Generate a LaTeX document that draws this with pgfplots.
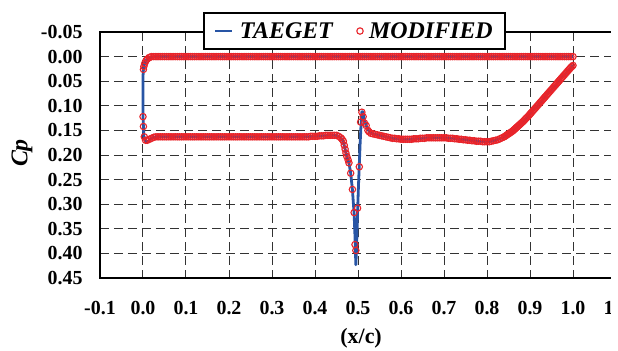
\documentclass[border=0pt]{standalone}
\usepackage{fontspec}
\setmainfont{Liberation Serif}
\usepackage{pgfplots}
\pgfplotsset{compat=1.18}
\definecolor{tblue}{RGB}{40,85,165}
\definecolor{mred}{RGB}{232,36,42}
\begin{document}
\begin{tikzpicture}
\begin{axis}[
  scale only axis, width=516bp, height=246bp,
  xmin=-0.1, xmax=1.1, ymin=-0.05, ymax=0.45, y dir=reverse,
  xtick={-0.1,0,0.1,0.2,0.3,0.4,0.5,0.6,0.7,0.8,0.9,1.0,1.1},
  xticklabels={-0.1,0.0,0.1,0.2,0.3,0.4,0.5,0.6,0.7,0.8,0.9,1.0,1.1},
  ytick={-0.05,0,0.05,0.1,0.15,0.2,0.25,0.3,0.35,0.4,0.45},
  yticklabels={-0.05,0.00,0.05,0.10,0.15,0.20,0.25,0.30,0.35,0.40,0.45},
  grid=major,
  major grid style={dash pattern=on 9bp off 5bp, line width=1bp, black!80},
  major tick length=0pt,
  axis line style={line width=2bp},
  ticklabel style={font=\bfseries\fontsize{20}{24}\selectfont},
  xticklabel style={yshift=-20bp},
  yticklabel style={xshift=-14bp},
  xlabel={(x/c)},
  xlabel style={font=\bfseries\fontsize{22}{26}\selectfont, at={(axis description cs:0.506,-0.244)}, anchor=center},
  ylabel={Cp},
  ylabel style={font=\bfseries\itshape\fontsize{24}{28}\selectfont, at={(axis description cs:-0.151,0.508)}, anchor=center},
  legend style={at={(axis description cs:0.493,1.004)}, anchor=center, draw=black, line width=2bp, fill=white,
    inner xsep=10bp, inner ysep=7bp,
    font=\bfseries\itshape\fontsize{24}{28}\selectfont,
    /tikz/every odd column/.append style={column sep=4bp},
    /tikz/every even column/.append style={column sep=22bp}},
  legend columns=2,
]
\addplot[tblue, line width=2.8bp, line join=round] coordinates {
(1.000,0.000)(0.900,0.000)(0.800,0.000)(0.700,0.000)(0.600,0.000)(0.500,0.000)(0.400,0.000)(0.300,0.000)(0.200,0.000)(0.100,0.000)(0.050,0.000)(0.030,0.000)(0.020,0.001)(0.014,0.002)(0.010,0.005)(0.007,0.008)(0.004,0.014)(0.002,0.020)(0.001,0.026)(0.000,0.040)(0.000,0.080)(0.000,0.122)(0.001,0.142)(0.002,0.163)(0.005,0.172)(0.008,0.174)(0.012,0.172)(0.018,0.168)(0.025,0.164)(0.030,0.163)(0.100,0.163)(0.200,0.163)(0.300,0.163)(0.380,0.163)(0.400,0.162)(0.420,0.161)(0.440,0.160)(0.450,0.160)(0.455,0.162)(0.460,0.165)(0.463,0.168)(0.466,0.174)(0.470,0.188)(0.474,0.203)(0.479,0.216)(0.483,0.237)(0.487,0.270)(0.491,0.320)(0.493,0.365)(0.495,0.423)(0.497,0.380)(0.499,0.315)(0.501,0.265)(0.503,0.220)(0.505,0.175)(0.507,0.140)(0.509,0.112)(0.511,0.112)(0.515,0.130)(0.519,0.140)(0.523,0.148)(0.528,0.154)(0.535,0.157)(0.540,0.158)(0.550,0.160)(0.560,0.162)(0.570,0.164)(0.580,0.166)(0.600,0.168)(0.620,0.168)(0.640,0.167)(0.660,0.165)(0.680,0.165)(0.700,0.165)(0.720,0.166)(0.740,0.168)(0.760,0.170)(0.780,0.172)(0.800,0.173)(0.810,0.172)(0.820,0.170)(0.830,0.167)(0.840,0.163)(0.850,0.157)(0.860,0.151)(0.870,0.143)(0.880,0.135)(0.890,0.126)(0.900,0.117)(0.920,0.097)(0.940,0.077)(0.960,0.057)(0.980,0.037)(1.000,0.018)
};
\addlegendentry{TAEGET}
\addplot[only marks, mark=o, mark size=3.2bp, mark options={draw=mred, line width=1.1bp}] coordinates {
(0.001,0.026)(0.002,0.020)(0.004,0.014)(0.007,0.008)(0.010,0.005)(0.014,0.002)(0.017,0.001)
(0.020,0)(0.025,0)(0.030,0)(0.035,0)(0.040,0)(0.045,0)(0.050,0)(0.055,0)(0.060,0)(0.065,0)(0.070,0)(0.075,0)(0.080,0)(0.085,0)(0.090,0)(0.095,0)
(0.100,0)(0.105,0)(0.110,0)(0.115,0)(0.120,0)(0.125,0)(0.130,0)(0.135,0)(0.140,0)(0.145,0)(0.150,0)(0.155,0)(0.160,0)(0.165,0)(0.170,0)(0.175,0)(0.180,0)(0.185,0)(0.190,0)(0.195,0)
(0.200,0)(0.205,0)(0.210,0)(0.215,0)(0.220,0)(0.225,0)(0.230,0)(0.235,0)(0.240,0)(0.245,0)(0.250,0)(0.255,0)(0.260,0)(0.265,0)(0.270,0)(0.275,0)(0.280,0)(0.285,0)(0.290,0)(0.295,0)
(0.300,0)(0.305,0)(0.310,0)(0.315,0)(0.320,0)(0.325,0)(0.330,0)(0.335,0)(0.340,0)(0.345,0)(0.350,0)(0.355,0)(0.360,0)(0.365,0)(0.370,0)(0.375,0)(0.380,0)(0.385,0)(0.390,0)(0.395,0)
(0.400,0)(0.405,0)(0.410,0)(0.415,0)(0.420,0)(0.425,0)(0.430,0)(0.435,0)(0.440,0)(0.445,0)(0.450,0)(0.455,0)(0.460,0)(0.465,0)(0.470,0)(0.475,0)(0.480,0)(0.485,0)(0.490,0)(0.495,0)
(0.500,0)(0.505,0)(0.510,0)(0.515,0)(0.520,0)(0.525,0)(0.530,0)(0.535,0)(0.540,0)(0.545,0)(0.550,0)(0.555,0)(0.560,0)(0.565,0)(0.570,0)(0.575,0)(0.580,0)(0.585,0)(0.590,0)(0.595,0)
(0.600,0)(0.605,0)(0.610,0)(0.615,0)(0.620,0)(0.625,0)(0.630,0)(0.635,0)(0.640,0)(0.645,0)(0.650,0)(0.655,0)(0.660,0)(0.665,0)(0.670,0)(0.675,0)(0.680,0)(0.685,0)(0.690,0)(0.695,0)
(0.700,0)(0.705,0)(0.710,0)(0.715,0)(0.720,0)(0.725,0)(0.730,0)(0.735,0)(0.740,0)(0.745,0)(0.750,0)(0.755,0)(0.760,0)(0.765,0)(0.770,0)(0.775,0)(0.780,0)(0.785,0)(0.790,0)(0.795,0)
(0.800,0)(0.805,0)(0.810,0)(0.815,0)(0.820,0)(0.825,0)(0.830,0)(0.835,0)(0.840,0)(0.845,0)(0.850,0)(0.855,0)(0.860,0)(0.865,0)(0.870,0)(0.875,0)(0.880,0)(0.885,0)(0.890,0)(0.895,0)
(0.900,0)(0.905,0)(0.910,0)(0.915,0)(0.920,0)(0.925,0)(0.930,0)(0.935,0)(0.940,0)(0.945,0)(0.950,0)(0.955,0)(0.960,0)(0.965,0)(0.970,0)(0.975,0)(0.980,0)(0.985,0)(0.990,0)(0.995,0)
(1.000,0)
(0.000,0.122)(0.001,0.142)(0.003,0.163)(0.006,0.170)(0.010,0.170)(0.015,0.168)(0.020,0.166)(0.025,0.164)(0.030,0.163)
(0.035,0.163)(0.040,0.163)(0.045,0.163)(0.050,0.163)(0.055,0.163)(0.060,0.163)(0.065,0.163)(0.070,0.163)(0.075,0.163)(0.080,0.163)(0.085,0.163)(0.090,0.163)(0.095,0.163)
(0.100,0.163)(0.105,0.163)(0.110,0.163)(0.115,0.163)(0.120,0.163)(0.125,0.163)(0.130,0.163)(0.135,0.163)(0.140,0.163)(0.145,0.163)(0.150,0.163)(0.155,0.163)(0.160,0.163)(0.165,0.163)(0.170,0.163)(0.175,0.163)(0.180,0.163)(0.185,0.163)(0.190,0.163)(0.195,0.163)
(0.200,0.163)(0.205,0.163)(0.210,0.163)(0.215,0.163)(0.220,0.163)(0.225,0.163)(0.230,0.163)(0.235,0.163)(0.240,0.163)(0.245,0.163)(0.250,0.163)(0.255,0.163)(0.260,0.163)(0.265,0.163)(0.270,0.163)(0.275,0.163)(0.280,0.163)(0.285,0.163)(0.290,0.163)(0.295,0.163)
(0.300,0.163)(0.305,0.163)(0.310,0.163)(0.315,0.163)(0.320,0.163)(0.325,0.163)(0.330,0.163)(0.335,0.163)(0.340,0.163)(0.345,0.163)(0.350,0.163)(0.355,0.163)(0.360,0.163)(0.365,0.163)(0.370,0.163)(0.375,0.163)
(0.380,0.163)(0.385,0.163)(0.390,0.162)(0.395,0.162)(0.400,0.162)(0.405,0.162)(0.410,0.161)(0.415,0.161)(0.420,0.161)(0.425,0.160)(0.430,0.160)(0.435,0.160)(0.440,0.160)(0.445,0.160)(0.450,0.160)(0.455,0.162)
(0.460,0.165)(0.463,0.168)(0.466,0.172)(0.468,0.180)(0.470,0.188)(0.472,0.196)(0.474,0.203)(0.477,0.210)(0.479,0.216)(0.483,0.237)(0.487,0.270)(0.491,0.317)(0.493,0.382)(0.495,0.394)(0.499,0.308)(0.503,0.224)(0.506,0.133)(0.509,0.113)(0.512,0.122)(0.515,0.135)(0.519,0.140)(0.523,0.150)(0.526,0.153)
(0.530,0.156)(0.535,0.157)(0.540,0.158)(0.545,0.159)(0.550,0.160)(0.555,0.161)(0.560,0.162)(0.565,0.163)(0.570,0.164)(0.575,0.165)(0.580,0.166)(0.585,0.166)(0.590,0.167)(0.595,0.167)
(0.600,0.168)(0.605,0.168)(0.610,0.168)(0.615,0.168)(0.620,0.168)(0.625,0.168)(0.630,0.167)(0.635,0.167)(0.640,0.167)(0.645,0.166)(0.650,0.166)(0.655,0.166)(0.660,0.165)(0.665,0.165)(0.670,0.165)(0.675,0.165)(0.680,0.165)(0.685,0.165)(0.690,0.165)(0.695,0.165)
(0.700,0.165)(0.705,0.165)(0.710,0.166)(0.715,0.166)(0.720,0.166)(0.725,0.167)(0.730,0.167)(0.735,0.168)(0.740,0.168)(0.745,0.169)(0.750,0.169)(0.755,0.170)(0.760,0.170)(0.765,0.171)(0.770,0.171)(0.775,0.172)(0.780,0.172)(0.785,0.172)(0.790,0.173)(0.795,0.173)
(0.800,0.173)(0.805,0.173)(0.810,0.172)(0.815,0.171)(0.820,0.170)(0.825,0.169)(0.830,0.167)(0.835,0.165)(0.840,0.163)(0.845,0.160)(0.850,0.157)(0.855,0.154)(0.860,0.151)(0.865,0.147)(0.870,0.143)(0.875,0.139)(0.880,0.135)(0.885,0.131)(0.890,0.126)(0.895,0.122)
(0.900,0.117)(0.905,0.112)(0.910,0.107)(0.915,0.102)(0.920,0.097)(0.925,0.092)(0.930,0.087)(0.935,0.082)(0.940,0.077)(0.945,0.072)(0.950,0.067)(0.955,0.062)(0.960,0.057)(0.965,0.052)(0.970,0.047)(0.975,0.042)(0.980,0.037)(0.985,0.032)(0.990,0.027)(0.995,0.022)
(1.000,0.018)
(0.8425,0.1615)(0.8475,0.1585)(0.8525,0.1555)(0.8575,0.1525)(0.8625,0.1490)(0.8675,0.1450)(0.8725,0.1410)(0.8775,0.1370)(0.8825,0.1330)(0.8875,0.1285)(0.8925,0.1240)(0.8975,0.1195)
(0.9025,0.1145)(0.9075,0.1095)(0.9125,0.1045)(0.9175,0.0995)(0.9225,0.0945)(0.9275,0.0895)(0.9325,0.0845)(0.9375,0.0795)(0.9425,0.0745)(0.9475,0.0695)(0.9525,0.0645)(0.9575,0.0595)
(0.9625,0.0545)(0.9675,0.0495)(0.9725,0.0445)(0.9775,0.0395)(0.9825,0.0345)(0.9875,0.0295)(0.9925,0.0245)(0.9975,0.0200)
};
\addlegendentry{MODIFIED}
\end{axis}
\fill[white] ([xshift=-5bp,yshift=40bp]current axis.north east) rectangle ([xshift=30bp,yshift=-90bp]current axis.south east);
\pgfresetboundingbox
\path[use as bounding box] ([shift={(-100bp,-73bp)}]current axis.south west) rectangle ([shift={(2bp,32bp)}]current axis.north east);
\end{tikzpicture}
\end{document}
